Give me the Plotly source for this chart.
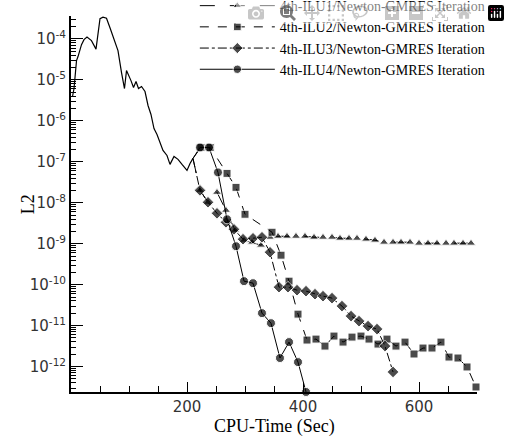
import plotly.graph_objects as go

# shared convergence history before the restart
hist_t = [2.6, 5.2, 9.5, 12.1, 18.1, 22.4, 27.6, 35.3, 43.1, 47.4, 50, 55.2, 61.2, 67.2,
          74.1, 81, 87.1, 92.2, 95.7, 99.1, 103.4, 107.8, 112.1, 116.4, 121.6, 127.6,
          132.8, 137.9, 143.1, 148.3, 153.4, 158.6, 165.5, 170.7, 177.6, 184.5, 191.4,
          200, 205.2, 210.3]
hist_l2 = [3.93e-6, 6.15e-6, 2.96e-5, 3.71e-5, 7.27e-5, 9.6e-5, 1.11e-4, 9.09e-5, 5.64e-5,
           1.42e-4, 3.12e-4, 3.40e-4, 3.21e-4, 1.88e-4, 9.6e-5, 5.19e-5, 1.51e-5, 6.15e-6,
           1.69e-5, 1.35e-5, 9.6e-6, 6.5e-6, 9.1e-6, 6.15e-6, 6.9e-6, 5.2e-6, 2.37e-6,
           1.43e-6, 6.5e-7, 4.66e-7, 2.97e-7, 1.90e-7, 1.43e-7, 8.65e-8, 1.35e-7, 1.15e-7,
           8.65e-8, 6.18e-8, 9.1e-8, 1.21e-7]

ilu1_t = [222.4, 236.2, 251.7, 267.2, 282.8, 298.3, 312.1, 327.6, 343.1, 356.9, 372.4, 387.9,
          403.4, 419, 434.5, 450, 463.8, 479.3, 493.1, 508.6, 524.1, 539.7, 555.2, 569,
          584.5, 600, 615.5, 631, 646.6, 660.3, 675.9, 689.7]
ilu1_l2 = [2.01e-8, 1.03e-8, 1.80e-8, 6.55e-9, 2.13e-9, 1.22e-9, 1.09e-9, 9.2e-10, 1.44e-9,
           1.52e-9, 1.52e-9, 1.52e-9, 1.52e-9, 1.44e-9, 1.44e-9, 1.44e-9, 1.36e-9, 1.36e-9,
           1.36e-9, 1.29e-9, 1.22e-9, 1.09e-9, 1.09e-9, 1.09e-9, 1.09e-9, 1.03e-9, 1.03e-9,
           1.03e-9, 1.03e-9, 1.03e-9, 1.03e-9, 1.03e-9]

ilu2_t = [224, 240, 269.0, 284.5, 300, 346.6, 362.1, 375.9, 391.4, 406.9, 422.4, 437.9,
          453.4, 469, 484.5, 500, 513.8, 529.3, 544.8, 560.3, 575.9, 591.4, 606.9, 622.4,
          637.9, 651.7, 667.2, 682.8, 698.3]
ilu2_l2 = [2.24e-7, 2.24e-7, 5.22e-8, 2.38e-8, 5.24e-9, 1.91e-9, 5.25e-10, 1.22e-10, 1.91e-11,
           4.45e-12, 4.70e-12, 3.17e-12, 5.57e-12, 3.97e-12, 5.26e-12, 5.57e-12, 4.70e-12,
           3.55e-12, 4.70e-12, 3.17e-12, 3.97e-12, 2.03e-12, 2.84e-12, 2.84e-12, 3.97e-12,
           1.71e-12, 1.62e-12, 9.8e-13, 3.18e-13]

ilu3_t = [222.4, 236.2, 251.7, 267.2, 281, 296.6, 313.8, 329.3, 343.1, 358.6, 374.1, 389.7,
          405.2, 420.7, 434.5, 450, 467.2, 482.8, 496.6, 512.1, 527.6, 541.4, 555.2]
ilu3_l2 = [2.01e-8, 1.03e-8, 5.53e-9, 3.34e-9, 2.25e-9, 1.29e-9, 1.36e-9, 1.44e-9, 6.2e-10,
           8.7e-11, 8.7e-11, 7.35e-11, 6.95e-11, 5.87e-11, 5.25e-11, 4.70e-11, 3.00e-11,
           1.71e-11, 1.29e-11, 9.75e-12, 8.24e-12, 3.17e-12, 7.4e-13]

ilu4_t = [222.4, 237.9, 253.4, 269.0, 284.5, 298.3, 313.8, 329.3, 344.8, 360.3, 375.9, 391.4, 405.2]
ilu4_l2 = [2.24e-7, 2.24e-7, 5.52e-8, 3.95e-9, 8.7e-10, 1.22e-10, 1.09e-10, 2.02e-11, 1.15e-11,
           1.62e-12, 3.97e-12, 1.29e-12, 2.40e-13]

names = ["4th-ILU1/Newton-GMRES Iteration", "4th-ILU2/Newton-GMRES Iteration",
         "4th-ILU3/Newton-GMRES Iteration", "4th-ILU4/Newton-GMRES Iteration"]

y_tick_vals = [1e-4, 1e-5, 1e-6, 1e-7, 1e-8, 1e-9, 1e-10, 1e-11, 1e-12]
y_tick_text = ["10<sup>-4</sup>", "10<sup>-5</sup>", "10<sup>-6</sup>", "10<sup>-7</sup>",
               "10<sup>-8</sup>", "10<sup>-9</sup>", "10<sup>-10</sup>", "10<sup>-11</sup>",
               "10<sup>-12</sup>"]
x_tick_vals = [200, 400, 600]

fig = go.Figure()
fig.add_trace(go.Scatter(x=hist_t, y=hist_l2, mode="lines", showlegend=False,
                         line=dict(color="black", width=1.2), cliponaxis=False))

series = [
    (ilu1_t, ilu1_l2, "longdash", "triangle-up", 8),
    (ilu2_t, ilu2_l2, "dash", "square", 8),
    (ilu3_t, ilu3_l2, "dashdot", "diamond", 9),
    (ilu4_t, ilu4_l2, "solid", "circle", 9),
]
for name, (t, v, dash, sym, ms) in zip(names, series):
    xs = [hist_t[-1]] + t
    ys = [hist_l2[-1]] + v
    fig.add_trace(go.Scatter(
        x=xs, y=ys, mode="lines+markers", name=name, cliponaxis=False,
        line=dict(color="black", width=1, dash=dash),
        marker=dict(symbol=sym, size=[0] + [ms] * len(t), color="black"),
    ))

fig.update_layout(
    width=510, height=442,
    margin=dict(l=71, r=33, t=16, b=50, autoexpand=False),
    paper_bgcolor="white", plot_bgcolor="white",
    showlegend=True,
    legend=dict(x=0.305, y=1.069, xanchor="left", yanchor="top",
                font=dict(family="Liberation Serif", size=14, color="black"),
                bgcolor="rgba(0,0,0,0)", itemwidth=75, tracegroupgap=0,
                borderwidth=0),
    font=dict(family="DejaVu Sans", size=15, color="#333"),
    annotations=[
        dict(text="L2", xref="paper", yref="paper", x=-0.105, y=0.5,
             textangle=-90, showarrow=False, xanchor="center", yanchor="middle",
             font=dict(family="Liberation Serif", size=18, color="black")),
        dict(text="CPU-Time (Sec)", xref="paper", yref="paper", x=0.5, y=-0.093,
             showarrow=False, xanchor="center", yanchor="middle",
             font=dict(family="Liberation Serif", size=18, color="black")),
    ],
)
fig.update_xaxes(
    range=[0, 700], automargin=False, showline=True, linewidth=2, linecolor="black",
    mirror=False, showgrid=False, zeroline=False, ticks="inside", ticklen=10, tickwidth=1,
    tickcolor="black", tickvals=x_tick_vals,
    minor=dict(ticks="inside", ticklen=6, tickcolor="black", dtick=50, showgrid=False),
)
fig.update_yaxes(
    type="log", range=[-12.62, -3.44], automargin=False, showline=True, linewidth=2,
    linecolor="black", showgrid=False, zeroline=False, ticks="inside", ticklen=12, tickwidth=1,
    tickcolor="black", tickvals=y_tick_vals, ticktext=y_tick_text,
    minor=dict(ticks="inside", ticklen=5, tickcolor="black", dtick="D1", showgrid=False),
)

fig.write_html("out.html",
               post_script="document.body.style.margin='0px';document.body.style.padding='0px';")
